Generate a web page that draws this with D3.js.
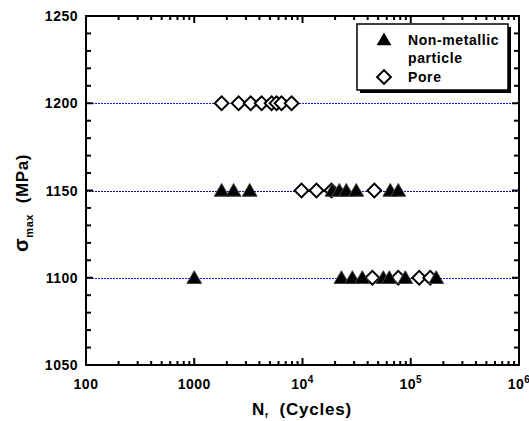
<!DOCTYPE html>
<html>
<head>
<meta charset="utf-8">
<script src="https://cdn.jsdelivr.net/npm/d3@7"></script>
<style>
  body { margin: 0; background: #fff; }
  text { font-family: Arial, "Liberation Sans", sans-serif; font-weight: bold; fill: #000; }
</style>
</head>
<body>
<div id="chart"></div>
<script>
// stress levels (MPa) and the dotted reference lines drawn at them
var levels = [1200, 1150, 1100];
var levelColors = ["#1a1aff", "#10109a", "#1a1aff"];

// non-metallic particle origin: cycles to failure and stress
var particleCycles = [1790, 2310, 3250, 18900, 21900, 25400, 31400, 64700, 76700,
                      1000, 22900, 28900, 35700, 55800, 63400, 89000, 171800];
var particleStress = [1150, 1150, 1150, 1150, 1150, 1150, 1150, 1150, 1150,
                      1100, 1100, 1100, 1100, 1100, 1100, 1100, 1100];

// pore origin
var poreCycles = [1790, 2570, 3320, 4190, 5180, 5760, 6400, 7930,
                  9790, 13460, 18500, 46100,
                  44200, 76700, 119700, 151300];
var poreStress = [1200, 1200, 1200, 1200, 1200, 1200, 1200, 1200,
                  1150, 1150, 1150, 1150,
                  1100, 1100, 1100, 1100];

var yTicks = [1050, 1100, 1150, 1200, 1250];
var xTicks = [100, 1000, 1e4, 1e5, 1e6];
var xTickLabels = ["100", "1000", "10^4", "10^5", "10^6"];
var legendLabels = ["Non-metallic", "particle", "Pore"];

var width = 529, height = 421;
var margin = {top: 16, right: 10, bottom: 56, left: 86};

var svg = d3.select("#chart").append("svg")
  .attr("width", width)
  .attr("height", height);

var x = d3.scaleLog()
  .domain([100, 1e6])
  .range([margin.left, width - margin.right]);

var y = d3.scaleLinear()
  .domain([1050, 1250])
  .range([height - margin.bottom, margin.top]);

var x0 = x.range()[0], x1 = x.range()[1];
var y0 = y.range()[0], y1 = y.range()[1];

// dotted reference lines
svg.selectAll(".level")
  .data(levels)
  .enter().append("line")
  .attr("class", "level")
  .attr("x1", x0).attr("x2", x1)
  .attr("y1", function(d) { return Math.round(y(d)) + 0.5; })
  .attr("y2", function(d) { return Math.round(y(d)) + 0.5; })
  .style("stroke", function(d, i) { return levelColors[i]; })
  .style("stroke-width", 1)
  .style("stroke-dasharray", "2,1");

// minor/major ticks, all pointing inward, mirrored on top and right
var minorX = [];
for (var e = 2; e < 6; e++) {
  for (var m = 2; m < 10; m++) minorX.push(m * Math.pow(10, e));
}
var minorY = d3.range(1060, 1250, 10).filter(function(d) { return d % 50 != 0; });

var ticks = svg.append("g").style("stroke", "#000").style("stroke-width", 2);
minorX.forEach(function(d) {
  ticks.append("line").attr("x1", x(d)).attr("x2", x(d)).attr("y1", y0).attr("y2", y0 - 4);
  ticks.append("line").attr("x1", x(d)).attr("x2", x(d)).attr("y1", y1).attr("y2", y1 + 4);
});
xTicks.forEach(function(d) {
  ticks.append("line").attr("x1", x(d)).attr("x2", x(d)).attr("y1", y0).attr("y2", y0 - 7);
  ticks.append("line").attr("x1", x(d)).attr("x2", x(d)).attr("y1", y1).attr("y2", y1 + 7);
});
minorY.forEach(function(d) {
  ticks.append("line").attr("x1", x0).attr("x2", x0 + 5).attr("y1", y(d)).attr("y2", y(d));
  ticks.append("line").attr("x1", x1).attr("x2", x1 - 5).attr("y1", y(d)).attr("y2", y(d));
});
yTicks.forEach(function(d) {
  ticks.append("line").attr("x1", x0).attr("x2", x0 + 7).attr("y1", y(d)).attr("y2", y(d));
  ticks.append("line").attr("x1", x1).attr("x2", x1 - 7).attr("y1", y(d)).attr("y2", y(d));
});

// frame
svg.append("rect")
  .attr("x", x0).attr("y", y1)
  .attr("width", x1 - x0).attr("height", y0 - y1)
  .style("fill", "none")
  .style("stroke", "#000")
  .style("stroke-width", 2);

// y tick labels
svg.selectAll(".ylab")
  .data(yTicks)
  .enter().append("text")
  .attr("class", "ylab")
  .attr("x", x0 - 8)
  .attr("y", function(d) { return y(d) + 5; })
  .attr("text-anchor", "end")
  .style("font-size", "14px")
  .style("letter-spacing", "0.5px")
  .text(function(d) { return d; });

// x tick labels (powers with superscripts)
xTicks.forEach(function(d, i) {
  var lab = xTickLabels[i];
  var t = svg.append("text")
    .attr("x", x(d))
    .attr("y", y0 + 24)
    .attr("text-anchor", "middle")
    .style("font-size", "14px")
    .style("letter-spacing", "0.5px");
  if (lab.indexOf("^") > 0) {
    var parts = lab.split("^");
    t.append("tspan").text(parts[0]);
    t.append("tspan").attr("dy", -6).style("font-size", "10px").text(parts[1]);
  } else {
    t.text(lab);
  }
});

// markers
var tri = d3.symbol().type(d3.symbolTriangle).size(95);
var dia = d3.symbol().type(d3.symbolSquare).size(95);

svg.selectAll(".pore")
  .data(poreCycles)
  .enter().append("path")
  .attr("class", "pore")
  .attr("d", dia)
  .attr("transform", function(d, i) {
    return "translate(" + x(d) + "," + y(poreStress[i]) + ") rotate(45)";
  })
  .style("fill", "#fff")
  .style("stroke", "#000")
  .style("stroke-width", 2);

svg.selectAll(".particle")
  .data(particleCycles)
  .enter().append("path")
  .attr("class", "particle")
  .attr("d", tri)
  .attr("transform", function(d, i) {
    return "translate(" + x(d) + "," + (y(particleStress[i]) + 1.5) + ")";
  })
  .style("fill", "#000")
  .style("stroke", "#444")
  .style("stroke-width", 1);

// legend with drop shadow
var lg = svg.append("g").attr("transform", "translate(357,24)");
lg.append("rect").attr("x", 3).attr("y", 3).attr("width", 151).attr("height", 66).style("fill", "#000");
lg.append("rect").attr("width", 151).attr("height", 66)
  .style("fill", "#fff").style("stroke", "#000").style("stroke-width", 1.5);
lg.append("path").attr("d", tri).attr("transform", "translate(27,17)").style("fill", "#000");
lg.append("path").attr("d", dia).attr("transform", "translate(27,53) rotate(45)")
  .style("fill", "#fff").style("stroke", "#000").style("stroke-width", 2);
[21, 39, 58].forEach(function(ty, i) {
  lg.append("text").attr("x", 51).attr("y", ty)
    .style("font-size", "14px").style("letter-spacing", "0.6px")
    .text(legendLabels[i]);
});

// axis titles
var xt = svg.append("text")
  .attr("x", 302)
  .attr("y", 415)
  .attr("text-anchor", "middle")
  .style("font-size", "17px")
  .style("letter-spacing", "0.8px");
xt.append("tspan").text("N");
xt.append("tspan").attr("dy", 3).style("font-size", "8px").text("f");
xt.append("tspan").attr("dy", -3).text("\u00a0 (Cycles)");

var yt = svg.append("text")
  .attr("transform", "translate(28,203) rotate(-90)")
  .attr("text-anchor", "middle")
  .style("font-size", "17px")
  .style("letter-spacing", "0.6px");
yt.append("tspan").style("font-size", "20px").text("\u03c3");
yt.append("tspan").attr("dy", 5).style("font-size", "11px").text("max");
yt.append("tspan").attr("dy", -5).text("\u00a0 (MPa)");
</script>
</body>
</html>
